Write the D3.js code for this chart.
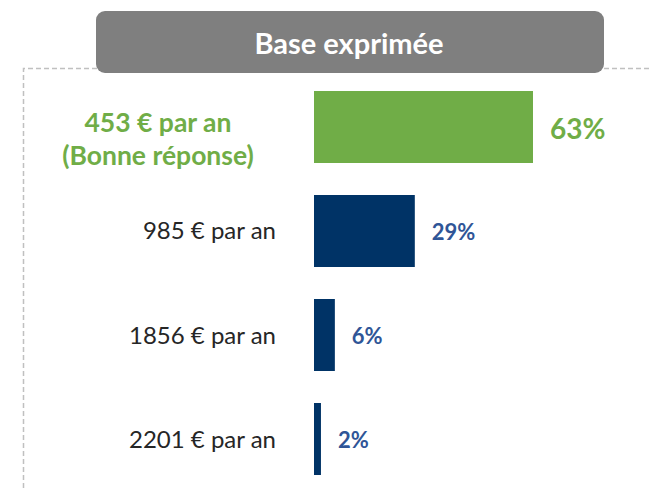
<!DOCTYPE html>
<html>
<head>
<meta charset="utf-8">
<script src="https://cdn.jsdelivr.net/npm/d3@7"></script>
<style>
  body { margin: 0; background: #fff; }
  svg { display: block; font-family: Lato, "Open Sans", sans-serif; }
</style>
</head>
<body>
<script>
    // Data
    var categories = ["453 € par an", "985 € par an", "1856 € par an", "2201 € par an"];
    var values = [63, 29, 6, 2];
    var highlight = [true, false, false, false];
    var title = "Base exprimée";

    var width = 650, height = 488;
    var green = "#70AD47", navy = "#003366", blueText = "#2F5597";

    var svg = d3.select("body").append("svg")
        .attr("width", width)
        .attr("height", height);

    // dashed frame
    svg.append("path")
        .attr("d", "M23.5,488 L23.5,68.5 L650,68.5")
        .attr("fill", "none")
        .attr("stroke", "#c0c0c0")
        .attr("stroke-width", 1.5)
        .attr("stroke-dasharray", "5,3");

    // title box
    svg.append("rect")
        .attr("x", 96).attr("y", 11)
        .attr("width", 508).attr("height", 62)
        .attr("rx", 9)
        .attr("fill", "#7f7f7f");
    svg.append("text")
        .attr("x", 349).attr("y", 53.5)
        .attr("text-anchor", "middle")
        .attr("fill", "#fff")
        .attr("font-weight", "bold")
        .attr("font-size", 29)
        .text(title);

    var y = d3.scaleBand()
        .domain(categories)
        .range([75, 491])
        .paddingInner(0.3077)
        .paddingOuter(0.1538);

    var x = d3.scaleLinear()
        .domain([0, 63])
        .range([314, 533]);

    var rows = categories.map(function(c, i) {
        return {cat: c, val: values[i], hl: highlight[i]};
    });

    var g = svg.append("g");

    g.selectAll("rect.bar").data(rows).enter().append("rect")
        .attr("class", "bar")
        .attr("x", x(0))
        .attr("y", function(d) { return y(d.cat); })
        .attr("width", function(d) { return x(d.val) - x(0); })
        .attr("height", y.bandwidth())
        .attr("fill", function(d) { return d.hl ? green : navy; });

    // value labels
    g.selectAll("text.val").data(rows).enter().append("text")
        .attr("class", "val")
        .attr("x", function(d) { return x(d.val) + 17; })
        .attr("y", function(d) { return y(d.cat) + y.bandwidth() / 2 + (d.hl ? 12 : 9); })
        .attr("font-weight", "bold")
        .attr("font-size", function(d) { return d.hl ? 28 : 22; })
        .attr("fill", function(d) { return d.hl ? green : blueText; })
        .text(function(d) { return d.val + "%"; });

    // category labels
    rows.forEach(function(d) {
        var cy = y(d.cat) + y.bandwidth() / 2;
        if (d.hl) {
            var t = g.append("text")
                .attr("text-anchor", "middle")
                .attr("font-weight", "bold")
                .attr("font-size", 26.5)
                .attr("fill", green);
            t.append("tspan").attr("x", 158).attr("y", cy + 5).text(d.cat);
            t.append("tspan").attr("x", 158).attr("y", cy + 38).text("(Bonne réponse)");
        } else {
            g.append("text")
                .attr("x", 276)
                .attr("y", cy + 8.5)
                .attr("text-anchor", "end")
                .attr("font-size", 24)
                .attr("fill", "#262626")
                .text(d.cat);
        }
    });
</script>
</body>
</html>
